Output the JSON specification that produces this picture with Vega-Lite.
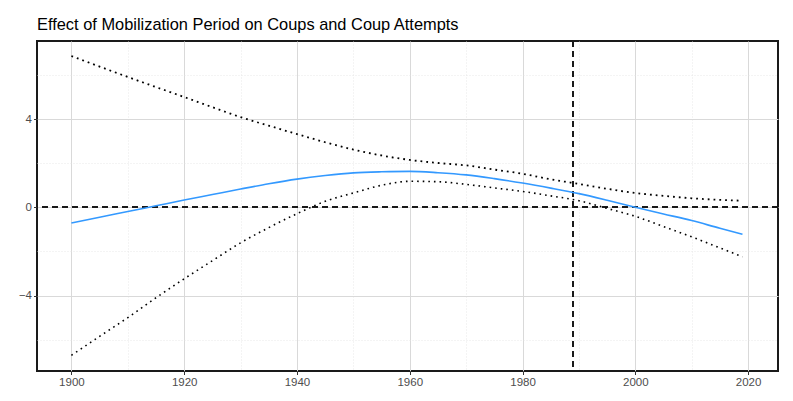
{
  "$schema": "https://vega.github.io/schema/vega-lite/v6.json",
  "width": 741,
  "height": 330,
  "autosize": {"type": "none"},
  "padding": {"left": 37, "top": 41, "right": 15, "bottom": 30},
  "background": "white",
  "title": {
    "text": "Effect of Mobilization Period on Coups and Coup Attempts",
    "anchor": "start",
    "frame": "group",
    "font": "Liberation Sans",
    "fontSize": 16.4,
    "fontWeight": "normal",
    "color": "#000000",
    "baseline": "alphabetic",
    "offset": -6
  },
  "config": {
    "view": {"stroke": "#1a1a1a", "strokeWidth": 2},
    "axis": {
      "labelFont": "Liberation Sans",
      "labelFontSize": 11.5,
      "labelColor": "#4d4d4d",
      "tickColor": "#333333",
      "tickSize": 3.5,
      "labelPadding": 2,
      "domain": false,
      "title": null
    }
  },
  "datasets": {
    "fit": [
      {"year": 1900, "est": -0.71, "upper": 6.86, "lower": -6.71},
      {"year": 1905, "est": -0.45, "upper": 6.38, "lower": -5.85},
      {"year": 1910, "est": -0.19, "upper": 5.91, "lower": -5.0},
      {"year": 1915, "est": 0.07, "upper": 5.45, "lower": -4.1},
      {"year": 1920, "est": 0.33, "upper": 5.0, "lower": -3.24},
      {"year": 1925, "est": 0.58, "upper": 4.54, "lower": -2.42},
      {"year": 1930, "est": 0.83, "upper": 4.09, "lower": -1.61},
      {"year": 1935, "est": 1.07, "upper": 3.7, "lower": -0.92},
      {"year": 1940, "est": 1.28, "upper": 3.32, "lower": -0.29},
      {"year": 1945, "est": 1.44, "upper": 2.95, "lower": 0.27},
      {"year": 1950, "est": 1.56, "upper": 2.62, "lower": 0.65},
      {"year": 1955, "est": 1.61, "upper": 2.35, "lower": 1.0},
      {"year": 1960, "est": 1.63, "upper": 2.15, "lower": 1.18},
      {"year": 1965, "est": 1.57, "upper": 2.01, "lower": 1.16},
      {"year": 1970, "est": 1.47, "upper": 1.9, "lower": 1.04},
      {"year": 1975, "est": 1.3, "upper": 1.71, "lower": 0.88},
      {"year": 1980, "est": 1.1, "upper": 1.52, "lower": 0.72},
      {"year": 1985, "est": 0.87, "upper": 1.27, "lower": 0.52},
      {"year": 1990, "est": 0.62, "upper": 1.06, "lower": 0.3},
      {"year": 1995, "est": 0.32, "upper": 0.84, "lower": -0.05},
      {"year": 2000, "est": 0.0, "upper": 0.65, "lower": -0.41},
      {"year": 2005, "est": -0.3, "upper": 0.52, "lower": -0.87},
      {"year": 2010, "est": -0.6, "upper": 0.41, "lower": -1.34},
      {"year": 2015, "est": -0.95, "upper": 0.34, "lower": -1.84},
      {"year": 2019, "est": -1.22, "upper": 0.3, "lower": -2.24}
    ]
  },
  "data": {"name": "fit"},
  "resolve": {"axis": {"x": "independent", "y": "independent"}},
  "layer": [
    {
      "mark": {"type": "line", "opacity": 0},
      "encoding": {
        "x": {"field": "year", "type": "quantitative",
          "scale": {"domain": [1893.9, 2025.3], "nice": false, "zero": false},
          "axis": {"orient": "bottom", "values": [1910, 1930, 1950, 1970, 1990, 2010], "labels": false, "ticks": false, "grid": true, "gridColor": "#e3e3e3", "gridDash": [1, 2], "gridWidth": 0.8}},
        "y": {"field": "est", "type": "quantitative",
          "scale": {"domain": [-7.42, 7.54], "nice": false, "zero": false},
          "axis": {"orient": "left", "values": [-6, -2, 2, 6], "labels": false, "ticks": false, "grid": true, "gridColor": "#e3e3e3", "gridDash": [1, 2], "gridWidth": 0.8}}
      }
    },
    {
      "mark": {"type": "line", "opacity": 0},
      "encoding": {
        "x": {"field": "year", "type": "quantitative",
          "axis": {"orient": "bottom", "values": [1900, 1920, 1940, 1960, 1980, 2000, 2020], "format": "d", "grid": true, "gridColor": "#d9d9d9", "gridWidth": 1}},
        "y": {"field": "est", "type": "quantitative",
          "axis": {"orient": "left", "values": [-4, 0, 4], "format": "d", "grid": true, "gridColor": "#d9d9d9", "gridWidth": 1}}
      }
    },
    {
      "mark": {"type": "rule", "color": "#1a1a1a", "strokeWidth": 1.2, "strokeDash": [6, 4]},
      "encoding": {"y": {"datum": 0, "type": "quantitative", "axis": null}}
    },
    {
      "mark": {"type": "rule", "color": "#1a1a1a", "strokeWidth": 1.2, "strokeDash": [6, 4]},
      "encoding": {"x": {"datum": 1989, "type": "quantitative", "axis": null}}
    },
    {
      "mark": {"type": "line", "color": "#000000", "strokeWidth": 1.8, "strokeDash": [1.8, 4], "interpolate": "monotone"},
      "encoding": {
        "x": {"field": "year", "type": "quantitative", "axis": null},
        "y": {"field": "upper", "type": "quantitative", "axis": null}
      }
    },
    {
      "mark": {"type": "line", "color": "#000000", "strokeWidth": 1.6, "strokeDash": [1.6, 4], "interpolate": "monotone"},
      "encoding": {
        "x": {"field": "year", "type": "quantitative", "axis": null},
        "y": {"field": "lower", "type": "quantitative", "axis": null}
      }
    },
    {
      "mark": {"type": "line", "color": "#3399ff", "strokeWidth": 1.6, "interpolate": "monotone"},
      "encoding": {
        "x": {"field": "year", "type": "quantitative", "axis": null},
        "y": {"field": "est", "type": "quantitative", "axis": null}
      }
    }
  ]
}
